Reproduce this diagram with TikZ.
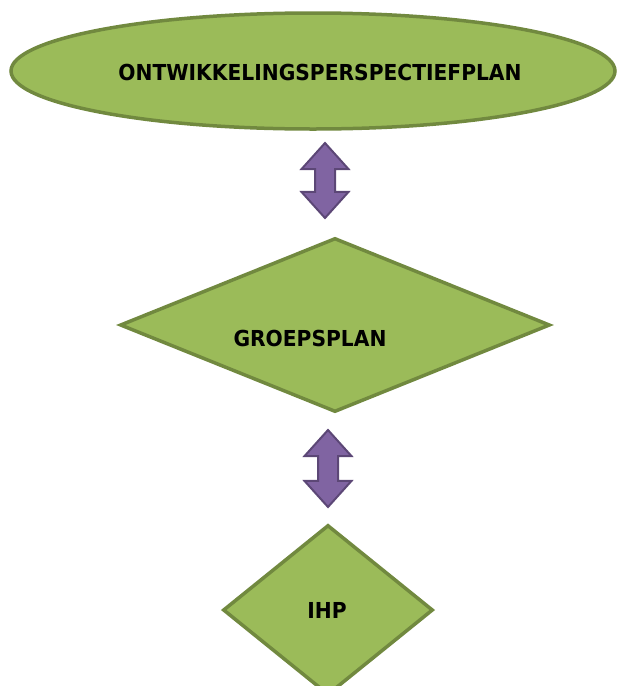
\documentclass[tikz,border=0pt]{standalone}
\usepackage{fontspec}
\newfontfamily\planfont[FakeStretch=0.92]{DejaVu Sans}
\usetikzlibrary{shapes.geometric,shapes.arrows}

\definecolor{plangreen}{HTML}{9BBB59}
\definecolor{planline}{HTML}{71893F}
\definecolor{arrowfill}{HTML}{8064A2}
\definecolor{arrowline}{HTML}{5C4776}

\begin{document}
\begin{tikzpicture}[x=1pt,y=-1pt,
    plan/.style={draw=planline,fill=plangreen,line width=3.5pt,inner sep=0pt},
    plantext/.style={font=\planfont\bfseries\fontsize{22}{24}\selectfont,inner sep=0pt},
    updown/.style={double arrow,draw=arrowline,fill=arrowfill,line width=2pt,
        rotate=90,inner xsep=0pt,inner ysep=9pt,minimum width=45pt,
        double arrow head extend=13.5pt,double arrow tip angle=84}]
    \useasboundingbox (0,0) rectangle (622,686);
    \clip (0,0) rectangle (622,686);

    % the three plans
    \node[plan,ellipse,minimum width=604pt,minimum height=116pt] (ontw) at (313,71) {};
    \node[plan,diamond,minimum width=430pt,minimum height=174pt] (groep) at (335,325) {};
    \node[plan,diamond,minimum width=210pt,minimum height=170pt] (ihp) at (328,610) {};

    % names of the plans
    \foreach \name/\x/\y/\txt in {ontw/320/72/ONTWIKKELINGSPERSPECTIEFPLAN,
        groep/310/338/GROEPSPLAN,ihp/327/610/IHP}
        \node[plantext] (\name-text) at (\x,\y) {\txt};

    % two-way arrows between the plans
    \node[updown,minimum height=75pt] (ontw-groep) at (325,180.5) {};
    \node[updown,minimum height=77pt] (groep-ihp) at (328,468.5) {};
\end{tikzpicture}
\end{document}
